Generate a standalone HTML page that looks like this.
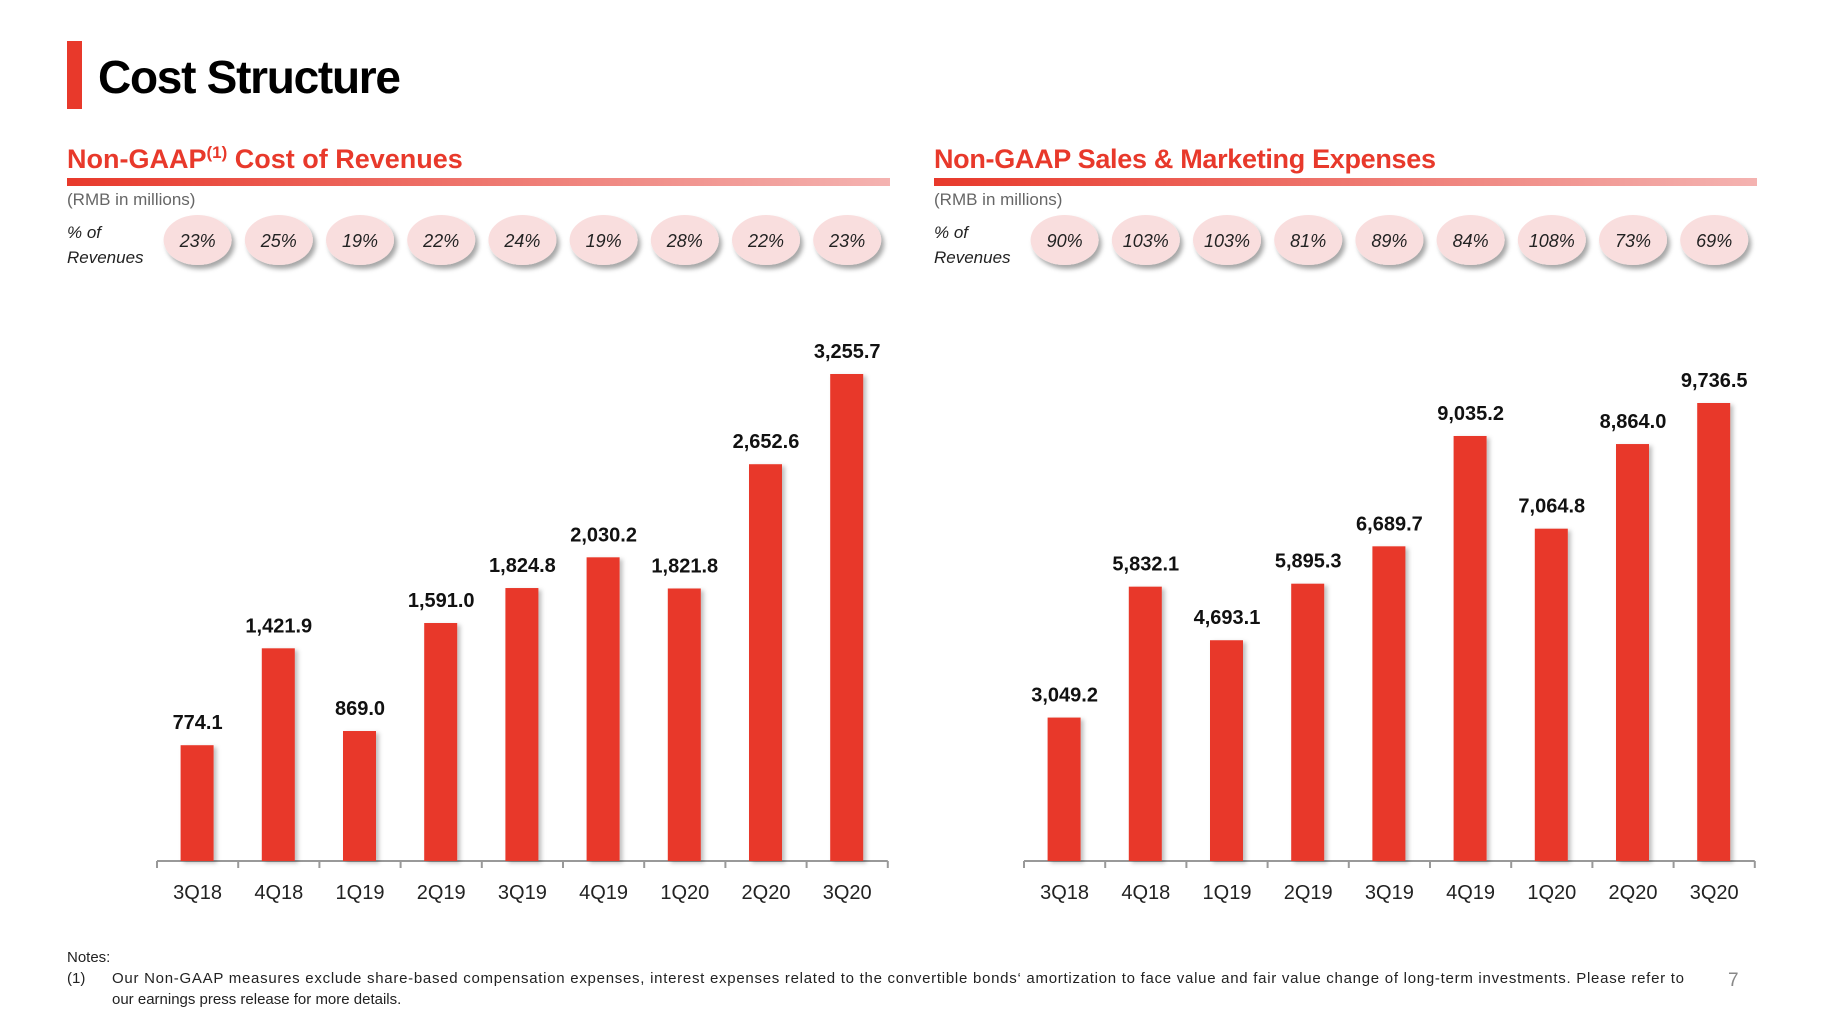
<!DOCTYPE html>
<html><head><meta charset="utf-8"><style>
body{margin:0;background:#fff;font-family:"Liberation Sans",sans-serif}
svg{display:block}
</style></head><body>
<svg id="s" width="1822" height="1012" viewBox="0 0 1822 1012" xmlns="http://www.w3.org/2000/svg">
<defs>
<linearGradient id="g" x1="0" x2="1"><stop offset="0" stop-color="#e8392b"/><stop offset="1" stop-color="#f4b3b1"/></linearGradient>
<filter id="sh" x="-30%" y="-30%" width="170%" height="170%"><feDropShadow dx="3" dy="4" stdDeviation="2.5" flood-color="#000" flood-opacity="0.35"/></filter>
<filter id="bs" x="-30%" y="-10%" width="170%" height="120%"><feDropShadow dx="3" dy="2" stdDeviation="2" flood-color="#000" flood-opacity="0.25"/></filter>
</defs>
<rect x="67" y="41" width="15" height="68" fill="#e8392b"/>
<text x="98" y="93" font-size="46" font-weight="bold" fill="#000" textLength="303">Cost Structure</text>
<g id="charts"></g>
<text x="67" y="962" font-size="15" fill="#222">Notes:</text>
<text x="67" y="983" font-size="15" fill="#222">(1)</text>
<text x="112" y="983" font-size="15" fill="#222" textLength="1572">Our Non-GAAP measures exclude share-based compensation expenses, interest expenses related to the convertible bonds‘ amortization to face value and fair value change of long-term investments. Please refer to</text>
<text x="112" y="1004" font-size="15" fill="#222">our earnings press release for more details.</text>
<text x="1728" y="986" font-size="19" fill="#888">7</text>
</svg>
<script>
const categories=["3Q18","4Q18","1Q19","2Q19","3Q19","4Q19","1Q20","2Q20","3Q20"];
const costValues=[774.1,1421.9,869.0,1591.0,1824.8,2030.2,1821.8,2652.6,3255.7];
const costPct=["23%","25%","19%","22%","24%","19%","28%","22%","23%"];
const smValues=[3049.2,5832.1,4693.1,5895.3,6689.7,9035.2,7064.8,8864.0,9736.5];
const smPct=["90%","103%","103%","81%","89%","84%","108%","73%","69%"];
const NS="http://www.w3.org/2000/svg";
const root=document.getElementById('charts');
function mk(tag,attrs,parent,text){const e=document.createElementNS(NS,tag);for(const k in attrs)e.setAttribute(k,attrs[k]);if(text!==undefined)e.textContent=text;parent.appendChild(e);return e;}
function fmt(v){return v.toLocaleString('en-US',{minimumFractionDigits:1,maximumFractionDigits:1});}
function chart(x0,title,sup,rest,vals,pcts,scale,idp,tl){
  const g=mk('g',{},root);
  
  
  const t=mk('text',{x:x0,y:168,'font-size':27,'font-weight':'bold',fill:'#e8392b'},g);
  
  
  if(sup){mk('tspan',{},t,title);mk('tspan',{'font-size':17,dy:-10},t,sup);mk('tspan',{dy:10},t,rest);}
  else{t.setAttribute('textLength',tl);t.textContent=title;}
  const bar=mk('rect',{x:x0,y:178,width:823,height:8,fill:'url(#g)'},g);
  
  
  const u=mk('text',{x:x0,y:205,'font-size':17,fill:'#666'},g,'(RMB in millions)');
  
  
  const p1=mk('text',{x:x0,y:238,'font-size':17,'font-style':'italic',fill:'#222'},g,'% of');
  
  
  mk('text',{x:x0,y:263,'font-size':17,'font-style':'italic',fill:'#222'},g,'Revenues');
  const axL=x0+90, slot=81.2;
  const base=861;
  const ax=mk('line',{x1:axL,x2:axL+9*slot,y1:base,y2:base,stroke:'#999','stroke-width':2},g);
  
  
  for(let i=0;i<=9;i++){mk('line',{x1:axL+i*slot,x2:axL+i*slot,y1:base,y2:base+7,stroke:'#999','stroke-width':2},g);}
  vals.forEach((v,i)=>{
    const cx=axL+slot*(i+0.5);
    const e=mk('ellipse',{cx:cx,cy:240,rx:34,ry:25,fill:'#f9dede',filter:'url(#sh)'},g);
    
    
    const pt=mk('text',{x:cx,y:247,'font-size':18,'font-style':'italic','text-anchor':'middle',fill:'#222'},g,pcts[i]);
    
    
    const h=v*scale;
    const r=mk('rect',{x:cx-17,y:base-h,width:33,height:h,fill:'#e8392b',filter:'url(#bs)'},g);
    
    
    const vl=mk('text',{x:cx,y:base-h-16,'font-size':20,'font-weight':'bold','text-anchor':'middle',fill:'#111'},g,fmt(v));
    
    
    const cl=mk('text',{x:cx,y:899,'font-size':20,'text-anchor':'middle',fill:'#222'},g,categories[i]);
    
    
  });
}
chart(67,'Non-GAAP','(1)',' Cost of Revenues',costValues,costPct,487/3255.7,'cost');
chart(934,'Non-GAAP Sales & Marketing Expenses','','',smValues,smPct,458/9736.5,'sm',502);
</script>
</body></html>
